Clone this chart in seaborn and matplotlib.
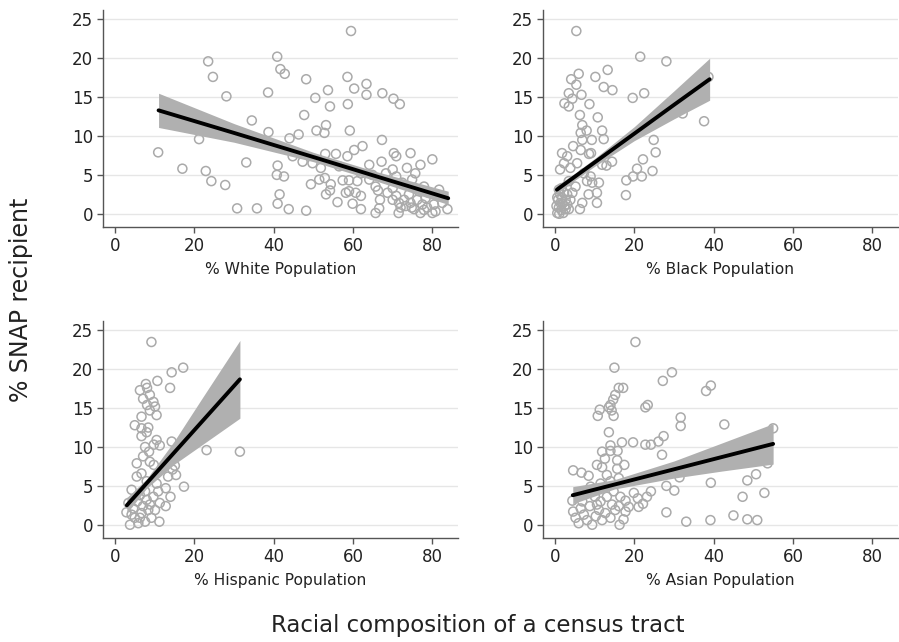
import matplotlib
matplotlib.use("Agg")
import matplotlib.pyplot as plt
import numpy as np
import pandas as pd
import seaborn as sns

# ---- data ----
white_x = [59.5, 23.5, 24.7, 40.9, 41.7, 42.8, 48.2, 58.6, 60.3, 63.4, 63.4, 67.4, 70.2, 71.8,
           53.7, 54.2, 58.7, 50.5, 38.6, 28.1, 47.7, 34.5, 53.2, 50.8, 52.8, 59.2, 38.7, 44.0,
           46.3, 67.3, 21.2, 10.9, 62.4, 60.3, 70.3, 70.9, 74.5, 77.0, 80.0, 67.2, 64.1, 55.7,
           53.0, 58.6, 33.1, 41.0, 17.0, 22.9, 24.3, 27.8, 40.8, 42.6, 49.4, 51.5, 52.9, 54.4,
           54.2, 53.2, 57.4, 59.0, 61.1, 64.1, 58.2, 59.0, 60.7, 62.0, 41.5, 41.0, 56.1, 59.9,
           62.0, 30.8, 35.8, 43.8, 48.2, 65.7, 66.6, 66.3, 66.8, 68.7, 70.0, 70.9, 71.6, 72.0,
           72.9, 73.3, 74.1, 74.5, 75.4, 76.2, 76.6, 77.0, 77.5, 78.3, 78.7, 80.0, 80.4, 81.2,
           81.7, 82.5, 83.8, 70.0, 72.4, 74.9, 75.7, 73.6, 70.0, 68.3, 70.9, 77.9, 79.1, 65.7,
           71.5, 74.8, 77.9, 80.8, 44.8, 49.8, 51.9, 56.5, 62.0, 64.9, 47.3]
white_y = [23.5, 19.6, 17.6, 20.2, 18.6, 18.0, 17.3, 17.6, 16.1, 16.7, 15.3, 15.5, 14.8, 14.1,
           15.9, 13.8, 14.1, 14.9, 15.6, 15.1, 12.7, 12.0, 11.4, 10.7, 10.4, 10.7, 10.5, 9.7,
           10.2, 9.5, 9.6, 7.9, 8.7, 8.2, 7.8, 7.4, 7.8, 6.3, 7.0, 6.7, 6.3, 7.7,
           7.7, 7.4, 6.6, 6.2, 5.8, 5.5, 4.2, 3.7, 5.0, 4.8, 3.8, 4.4, 4.6, 3.8,
           3.0, 2.5, 4.3, 4.3, 4.2, 4.4, 2.7, 2.9, 2.7, 2.3, 2.5, 1.3, 1.5, 1.3,
           0.6, 0.7, 0.7, 0.6, 0.4, 0.1, 0.7, 3.0, 1.8, 2.7, 1.8, 2.3, 1.4, 0.8,
           1.8, 1.0, 2.5, 1.4, 0.6, 1.8, 2.9, 0.1, 1.2, 2.0, 0.8, 0.1, 1.2, 2.3,
           3.1, 1.4, 0.6, 3.3, 4.0, 4.4, 5.2, 5.9, 5.7, 5.2, 4.8, 3.5, 2.7, 3.5,
           0.1, 0.8, 0.5, 0.3, 7.4, 6.5, 5.9, 6.1, 5.2, 5.0, 6.7]

black_x = [5.4, 21.5, 28.1, 13.3, 6.0, 4.1, 5.4, 10.2, 12.3, 14.5, 3.5, 6.7, 4.4, 2.4, 3.5,
           8.7, 19.6, 22.5, 6.3, 10.8, 6.9, 8.0, 6.5, 6.9, 11.9, 9.3, 12.3, 24.9, 25.4, 37.6,
           38.7, 32.2, 22.2, 20.7, 19.7, 18.0, 17.9, 21.9, 24.6, 14.4, 13.0, 11.9, 4.6, 6.5,
           8.6, 9.1, 1.8, 3.1, 1.3, 2.3, 3.9, 5.6, 7.3, 8.1, 9.4, 11.1, 10.6, 8.5, 6.9, 6.3,
           10.6, 5.2, 9.0, 3.5, 4.4, 0.6, 1.0, 1.4, 1.8, 2.3, 2.7, 3.1, 0.8, 1.3, 0.4, 2.1,
           1.7, 2.7, 1.0, 3.5, 1.6, 2.4, 0.6, 3.9, 3.1, 1.1, 1.9]
black_y = [23.5, 20.2, 19.6, 18.5, 18.0, 17.3, 16.6, 17.6, 16.3, 15.9, 15.5, 15.3, 14.8, 14.2, 13.8,
           14.1, 14.9, 15.5, 12.7, 12.4, 11.4, 10.7, 10.4, 9.5, 10.7, 9.5, 9.6, 9.5, 7.9, 11.9,
           17.6, 12.9, 7.0, 5.8, 4.8, 4.3, 2.4, 4.8, 5.5, 6.7, 6.2, 6.3, 8.7, 8.2,
           7.7, 7.8, 7.8, 7.4, 5.7, 6.5, 5.9, 6.5, 5.2, 4.2, 4.0, 4.0, 2.7, 2.5, 1.4, 0.6,
           1.4, 3.5, 4.8, 4.2, 2.7, 0.1, 0.8, 1.4, 2.0, 2.7, 0.6, 1.2, 1.8, 2.5, 1.0, 0.1,
           3.3, 1.8, 3.1, 0.6, 0.5, 1.0, 2.1, 1.8, 2.5, 0.0, 1.3]

hisp_x = [9.2, 17.2, 14.3, 10.7, 7.8, 8.1, 6.3, 13.9, 7.1, 8.8, 9.7, 10.1, 8.1, 8.8, 10.5,
          6.7, 5.0, 6.7, 8.4, 6.7, 8.0, 10.5, 9.8, 11.3, 14.3, 7.6, 8.6, 7.1, 23.1, 31.5,
          5.5, 8.8, 9.8, 15.1, 14.5, 13.4, 15.4, 17.4, 12.8, 14.0, 12.8, 11.3, 10.9, 5.5,
          6.7, 8.0, 4.2, 6.3, 8.0, 9.7, 3.4, 2.9, 3.8, 5.0, 5.9, 6.7, 7.6, 8.4, 9.2, 11.2,
          10.1, 4.6, 5.6, 7.1, 8.8, 6.3, 4.2, 7.6, 10.5]
hisp_y = [23.5, 20.2, 19.6, 18.5, 18.1, 17.6, 17.3, 17.6, 16.2, 16.7, 15.8, 15.2, 15.4, 14.7, 14.1,
          13.9, 12.8, 12.4, 12.5, 11.4, 11.9, 10.9, 10.3, 10.2, 10.7, 10.0, 9.4, 8.8, 9.6, 9.4,
          7.9, 8.1, 7.7, 7.6, 7.1, 6.2, 6.4, 4.9, 4.7, 3.6, 2.4, 2.8, 4.3, 6.2,
          6.6, 5.6, 4.5, 3.8, 3.2, 3.6, 2.8, 1.6, 0.0, 0.9, 0.2, 1.5, 0.4, 1.9, 0.9, 0.4,
          1.9, 2.1, 3.0, 2.4, 2.6, 0.9, 1.3, 4.3, 5.3]

asian_x = [20.3, 15.0, 29.5, 27.2, 16.1, 17.2, 38.1, 39.3, 15.2, 14.7, 14.0, 13.6, 14.3, 14.8,
           11.3, 10.8, 22.8, 23.4, 31.7, 31.7, 42.7, 55.0, 13.6, 27.4, 26.1, 16.9, 19.7, 22.8,
           24.2, 14.0, 14.0, 15.8, 11.9, 27.0, 12.6, 15.7, 10.6, 11.9, 17.5, 15.7, 4.6, 6.7,
           8.5, 48.5, 50.7, 39.3, 31.4, 28.1, 30.1, 24.2, 23.2, 19.9, 20.9, 52.8, 47.3, 17.8,
           18.6, 21.1, 22.2, 4.4, 6.9, 10.1, 11.5, 13.1, 14.8, 16.5, 9.0, 11.5, 14.0, 16.1,
           13.1, 28.1, 33.1, 39.2, 45.0, 48.5, 51.0, 53.6, 4.6, 5.2, 6.0, 7.3, 8.1, 9.4,
           10.3, 11.1, 11.9, 12.7, 14.0, 15.2, 16.3, 17.3, 17.8, 6.5, 8.8, 10.6, 14.4, 16.1, 8.3]
asian_y = [23.5, 20.2, 19.6, 18.5, 17.6, 17.6, 17.2, 17.9, 16.7, 16.1, 15.4, 15.1, 14.7, 14.0,
           14.8, 14.0, 15.1, 15.4, 13.8, 12.7, 12.9, 12.4, 11.9, 11.4, 10.7, 10.6, 10.6, 10.3,
           10.3, 10.2, 9.5, 9.5, 9.4, 9.0, 8.5, 8.3, 7.7, 7.4, 7.7, 7.2, 7.0, 6.7,
           6.3, 5.7, 6.5, 5.4, 6.1, 5.0, 4.4, 4.3, 3.6, 4.1, 3.4, 4.1, 3.6, 3.1,
           2.3, 2.3, 2.7, 3.1, 3.0, 3.6, 3.0, 3.6, 4.3, 3.6, 4.9, 5.3, 5.6, 6.0,
           6.4, 1.6, 0.4, 0.6, 1.2, 0.7, 0.6, 7.9, 1.7, 0.9, 0.2, 1.3, 0.6, 0.0,
           1.1, 1.9, 0.6, 1.5, 0.9, 1.9, 0.0, 0.7, 1.7, 2.1, 2.4, 2.6, 2.6, 2.4, 4.1]

# fitted line and 95% CI band, read at a few x positions
white_fx = [11, 30, 50, 65, 84]
white_fy = [13.3, 10.4, 7.3, 4.95, 2.0]
white_lo = [11.1, 9.2, 6.7, 4.35, 1.2]
white_hi = [15.5, 11.6, 7.9, 5.55, 2.9]

black_fx = [0.5, 5, 10, 20, 30, 39]
black_fy = [3.1, 4.76, 6.6, 10.3, 14.0, 17.3]
black_lo = [2.55, 4.3, 6.1, 9.4, 12.2, 14.6]
black_hi = [3.65, 5.2, 7.1, 11.2, 15.8, 20.0]

hisp_fx = [3, 8, 15, 22, 31.5]
hisp_fy = [2.5, 5.34, 9.32, 13.3, 18.7]
hisp_lo = [1.5, 4.7, 7.8, 10.3, 13.7]
hisp_hi = [3.5, 5.9, 10.8, 16.3, 23.7]

asian_fx = [4.5, 15, 30, 42, 55]
asian_fy = [3.8, 5.17, 7.13, 8.70, 10.4]
asian_lo = [2.7, 4.6, 6.0, 6.9, 7.8]
asian_hi = [4.9, 5.8, 8.2, 10.5, 13.0]

panels = [
    ("% White Population", white_x, white_y, white_fx, white_fy, white_lo, white_hi),
    ("% Black Population", black_x, black_y, black_fx, black_fy, black_lo, black_hi),
    ("% Hispanic Population", hisp_x, hisp_y, hisp_fx, hisp_fy, hisp_lo, hisp_hi),
    ("% Asian Population", asian_x, asian_y, asian_fx, asian_fy, asian_lo, asian_hi),
]

sns.set_theme(style="white")
plt.rcParams['font.family'] = ['DejaVu Sans']

fig = plt.figure(figsize=(8.99, 6.42), dpi=100)
rects = [
    [0.1146, 0.6464, 0.395, 0.338],
    [0.604, 0.6464, 0.395, 0.338],
    [0.1146, 0.162, 0.395, 0.338],
    [0.604, 0.162, 0.395, 0.338],
]

for rect, (label, xs, ys, fx, fy, lo, hi) in zip(rects, panels):
    ax = fig.add_axes(rect)
    df = pd.DataFrame({"x": xs, "y": ys})
    sns.scatterplot(data=df, x="x", y="y", ax=ax, marker="o", s=42,
                    facecolor="none", edgecolor="#aaaaaa", linewidth=1.1, zorder=2)
    ax.fill_between(fx, lo, hi, color="#b0b0b0", linewidth=0, zorder=3)
    fit = pd.DataFrame({"x": fx, "y": fy})
    sns.lineplot(data=fit, x="x", y="y", ax=ax, color="black", linewidth=2.8, zorder=4)

    ax.set_xlim(-3, 86.5)
    ax.set_ylim(-1.7, 26.2)
    ax.set_xticks([0, 20, 40, 60, 80])
    ax.set_yticks([0, 5, 10, 15, 20, 25])
    ax.yaxis.grid(True, color="#e6e6e6", linewidth=1.0, zorder=0)
    ax.set_axisbelow(True)
    for side in ["top", "right"]:
        ax.spines[side].set_visible(False)
    for side in ["left", "bottom"]:
        ax.spines[side].set_color("#555555")
        ax.spines[side].set_linewidth(1.0)
    ax.tick_params(axis="both", direction="out", length=4, width=1.0,
                   color="#555555", labelsize=12, labelcolor="#222222", pad=3)
    ax.tick_params(axis="x", bottom=True)
    ax.tick_params(axis="y", left=True)
    ax.set_xlabel(label, fontsize=11.2, color="#222222", labelpad=5)
    ax.set_ylabel("")

fig.text(0.023, 0.533, "% SNAP recipient", rotation=90, ha="center", va="center",
         fontsize=17, color="#222222")
fig.text(0.531, 0.025, "Racial composition of a census tract", ha="center", va="center",
         fontsize=16.5, color="#222222")

fig.savefig("out.png", dpi=100)
